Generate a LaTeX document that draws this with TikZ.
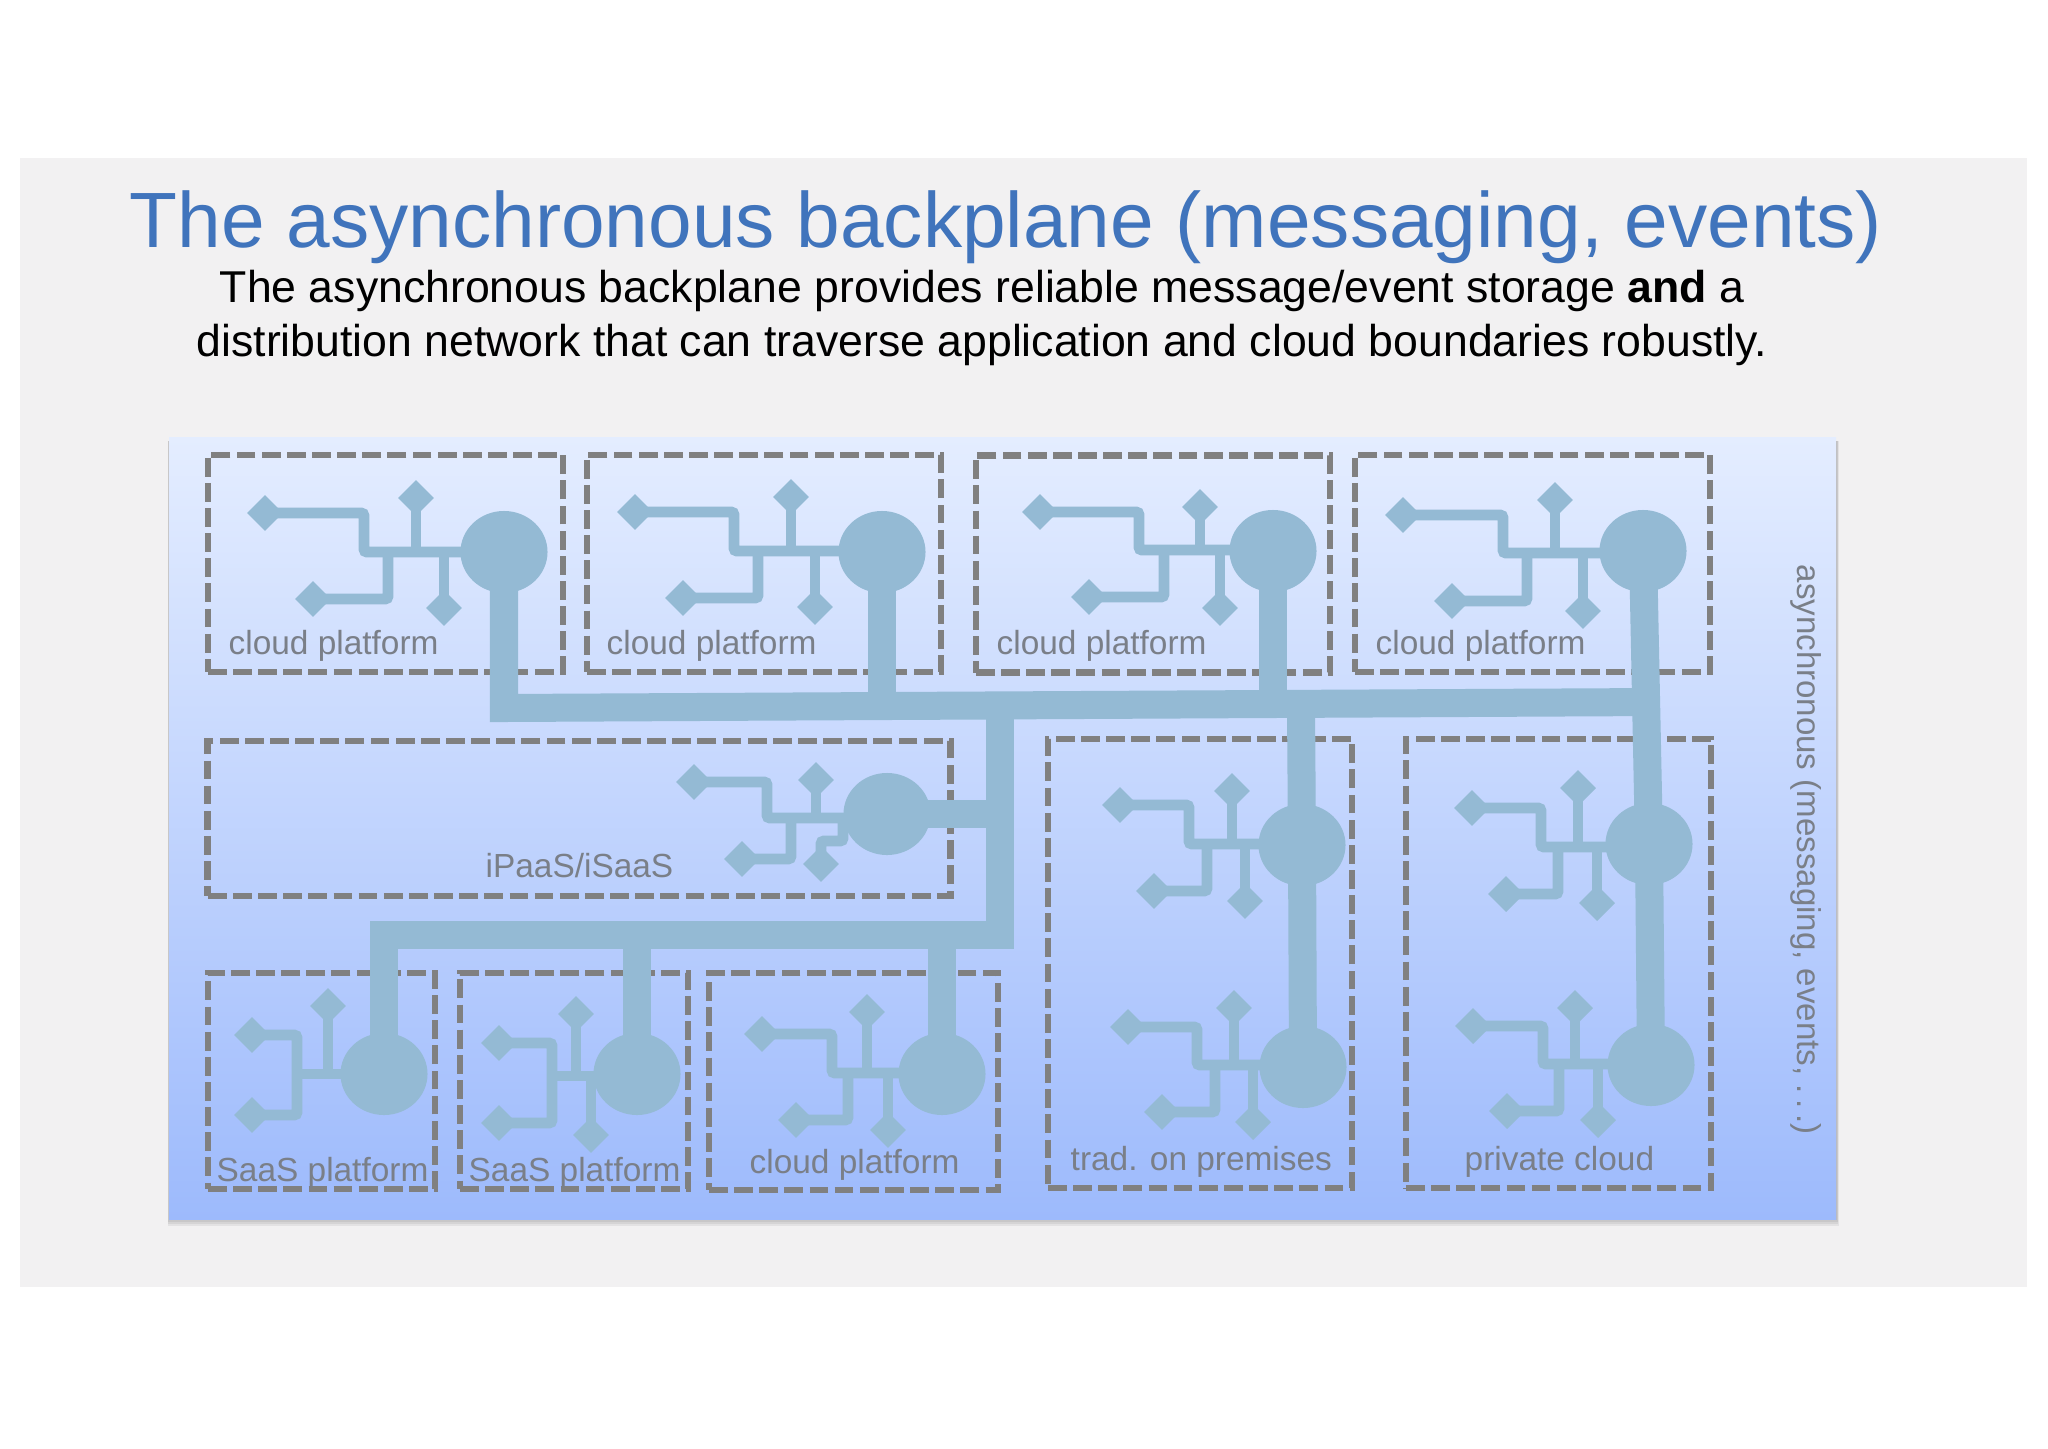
\documentclass[tikz,border=0pt]{standalone}
\usepackage{fontspec}
\setmainfont{Liberation Sans}
\usepackage{xcolor}
\usetikzlibrary{calc,positioning,shapes.geometric}
\definecolor{slidegray}{HTML}{F2F1F2}
\definecolor{titleblue}{HTML}{4074BC}
\definecolor{panelhi}{HTML}{E4EDFF}
\definecolor{panello}{HTML}{9DBAFC}
\definecolor{busblue}{HTML}{94BAD4}
\definecolor{dashgray}{HTML}{808080}
\definecolor{textgray}{HTML}{7A7F88}
\tikzset{%
	platbox/.style  = {draw=dashgray, rectangle, inner sep=0pt, line width=1.9pt, dash pattern=on 5.35pt off 1.8pt},
	hubdot/.style   = {ellipse, fill=busblue, inner sep=0pt, minimum width=0.87cm, minimum height=0.82cm},
	stubtip/.style  = {diamond, fill=busblue, inner sep=0pt, minimum size=0.365cm},
	wire/.style     = {draw=busblue, line width=3.1pt, rounded corners=0.03cm},
	busline/.style  = {draw=busblue, line width=0.28cm, miter limit=10},
	plattext/.style = {anchor=base west, inner sep=0pt, text=textgray, font=\fontsize{9.5}{11}\selectfont},
}
\newcommand{\chip}[8]{%
	\node[hubdot] (#1) at (#2) {};
	\node[stubtip] (#1a) at (#3) {};
	\node[stubtip] (#1b) at (#4) {};
	\node[stubtip] (#1c) at (#5) {};
	\node[stubtip] (#1d) at (#6) {};
	\coordinate (#1r) at (#7);
	\coordinate (#1j) at (#8,0);
	\draw[wire] (#1a.center) -| (#1r) -- (#1r -| #1);
	\draw[wire] (#1c.center) -| (#1j |- #1r);
	\draw[wire] (#1b.center) -- (#1b |- #1r);
	\draw[wire] (#1d.center) -- (#1d |- #1r);
}
\begin{document}
\begin{tikzpicture}[x=0.01cm,y=-0.01cm]
	\useasboundingbox (0,0) rectangle (2048,1448);
	\fill[slidegray] (20,158) rectangle (2027,1287);
	\foreach \s in {1,2,3,4}
		\fill[black,opacity=.06] ({169-0.3*\s},441) rectangle ({1836+0.8*\s},{1218+2*\s});
	\shade[top color=panelhi,bottom color=panello] (169,437) rectangle (1836,1219);

	\node[anchor=base,inner sep=0pt,text=titleblue,font=\fontsize{22.3}{26}\selectfont] (title) at (1006,247) {The asynchronous backplane (messaging, events)};
	\node[anchor=base,inner sep=0pt,font=\fontsize{12.68}{15}\selectfont] (line1) at (982,302) {The asynchronous backplane provides reliable message/event storage \textbf{and} a};
	\node[anchor=base,inner sep=0pt,font=\fontsize{12.68}{15}\selectfont] (line2) at (982,356) {distribution network that can traverse application and cloud boundaries robustly.};

	\node[platbox,minimum width=3.55cm,minimum height=2.17cm] (cp1) at (385.5,563.5) {};
	\node[platbox,minimum width=3.54cm,minimum height=2.17cm] (cp2) at (764,563.5) {};
	\node[platbox,minimum width=3.54cm,minimum height=2.17cm] (cp3) at (1153,564) {};
	\node[platbox,minimum width=3.55cm,minimum height=2.17cm] (cp4) at (1532.5,563.5) {};
	\node[platbox,minimum width=7.42cm,minimum height=1.55cm] (ipaas) at (579,818.5) {};
	\node[platbox,minimum width=2.27cm,minimum height=2.16cm] (saas1) at (321.5,1081) {};
	\node[platbox,minimum width=2.28cm,minimum height=2.16cm] (saas2) at (574,1081) {};
	\node[platbox,minimum width=2.89cm,minimum height=2.17cm] (cp5) at (853.5,1081.5) {};
	\node[platbox,minimum width=3.04cm,minimum height=4.49cm] (trad) at (1200,963.5) {};
	\node[platbox,minimum width=3.05cm,minimum height=4.49cm] (priv) at (1558.5,963.5) {};

	\chip{ca}{504,552}{265,513}{416,498}{313,599}{444,608}{364,552}{388}
	\chip{cb}{882,552}{635,512}{791,497}{683,598}{815,607}{734,551}{758}
	\chip{cc}{1273,551}{1040,512}{1200,507}{1089,597}{1220,608}{1139,550}{1164}
	\chip{cd}{1643,551}{1403,515}{1555,500}{1452,601}{1583,611}{1503,553}{1527}
	\chip{ce}{942,1074}{762,1034}{867,1012}{796,1120}{888,1130}{832,1073}{848}
	\chip{ta}{1302,845}{1120,805}{1232,791}{1154,891}{1245,901}{1189,844}{1207}
	\chip{tb}{1303,1067}{1128,1027}{1234,1008}{1162,1112}{1253,1122}{1197,1065}{1215}
	\chip{pa}{1649,844}{1472,808}{1578,788}{1506,894}{1597,903}{1541,847}{1558}
	\chip{pb}{1651,1065}{1473,1026}{1575,1008}{1507,1111}{1598,1120}{1543,1064}{1559}

	\node[hubdot] (ih) at (887,814) {};
	\node[stubtip] (iha) at (694,782) {};
	\node[stubtip] (ihb) at (816,780) {};
	\node[stubtip] (ihc) at (742,859) {};
	\node[stubtip] (ihd) at (821,864) {};
	\coordinate (ihr) at (767,818);
	\coordinate (ihj) at (791,0);
	\coordinate (ihk) at (843,841);
	\draw[wire] (iha.center) -| (ihr) -- (ihr -| ih);
	\draw[wire] (ihc.center) -| (ihj |- ihr);
	\draw[wire] (ihb.center) -- (ihb |- ihr);
	\draw[wire] (ihd.center) |- (ihk) -- (ihk |- ihr);

	\node[hubdot] (sa) at (384,1074) {};
	\node[stubtip] (saa) at (252,1035) {};
	\node[stubtip] (sab) at (328,1006) {};
	\node[stubtip] (sac) at (252,1115) {};
	\coordinate (saj) at (297,1074);
	\draw[wire] (saa.center) -| (saj) |- (sac.center);
	\draw[wire] (saj) -- (sa.center);
	\draw[wire] (sab.center) -- (sab |- saj);

	\node[hubdot] (sb) at (637,1074) {};
	\node[stubtip] (sba) at (499,1043) {};
	\node[stubtip] (sbb) at (576,1014) {};
	\node[stubtip] (sbc) at (499,1123) {};
	\node[stubtip] (sbd) at (591,1135) {};
	\coordinate (sbj) at (552,1076);
	\draw[wire] (sba.center) -| (sbj) |- (sbc.center);
	\draw[wire] (sbj) -- (sbj -| sb);
	\draw[wire] (sbb.center) -- (sbb |- sbj);
	\draw[wire] (sbd.center) -- (sbd |- sbj);

	\coordinate (topw) at (504,708);
	\coordinate (tope) at (1657,702);
	\coordinate (midn) at (1000,705);
	\coordinate (mids) at (1000,935);
	\coordinate (lowa) at (384,935);
	\coordinate (trnb) at (1301,705);
	\draw[busline] (ca.center) -- (topw) -- (tope);
	\draw[busline] (cb.center) -- (cb |- topw);
	\draw[busline] (cc.center) -- (cc |- midn);
	\draw[busline] (cd.center) -- (pa.center) -- (pb.center);
	\draw[busline] (trnb) -- (ta.center) -- (tb.center);
	\draw[busline] (midn) -- (mids) -- (lowa) -- (sa.center);
	\draw[busline] (ih.center) -- (ih -| midn);
	\draw[busline] (sb |- mids) -- (sb.center);
	\draw[busline] (ce |- mids) -- (ce.center);

	\node[plattext] (lcp1) at (228,654) {cloud platform};
	\node[plattext] (lcp2) at (606,654) {cloud platform};
	\node[plattext] (lcp3) at (996,654) {cloud platform};
	\node[plattext] (lcp4) at (1375,654) {cloud platform};
	\node[plattext] (lipaas) at (485,877) {iPaaS/iSaaS};
	\node[plattext] (lsaas1) at (216,1181) {SaaS platform};
	\node[plattext] (lsaas2) at (468,1181) {SaaS platform};
	\node[plattext] (lcp5) at (749,1173) {cloud platform};
	\node[plattext] (ltrad) at (1070,1170) {trad. on premises};
	\node[plattext] (lpriv) at (1464,1170) {private cloud};
	\node[plattext,rotate=-90,font=\fontsize{9.4}{11}\selectfont] (lasync) at (1797,564) {asynchronous (messaging, events, .\kern.17em.\kern.17em.)};
\end{tikzpicture}
\end{document}
